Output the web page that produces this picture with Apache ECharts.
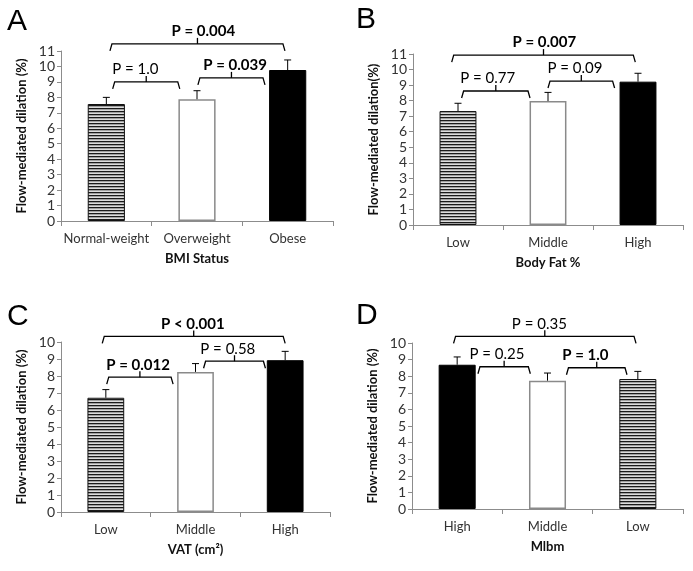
<!DOCTYPE html>
<html>
<head>
<meta charset="utf-8">
<script src="https://cdn.jsdelivr.net/npm/echarts@6/dist/echarts.min.js"></script>
<style>
html, body { margin: 0; padding: 0; background: #fff; }
#chart { width: 693px; height: 571px; }
</style>
</head>
<body>
<div id="chart"></div>
<script>
// A - BMI status
const catsA = ['Normal-weight', 'Overweight', 'Obese'];
const fmdA = [7.57, 7.88, 9.77];
const sdA = [0.43, 0.55, 0.65];
// B - body fat
const catsB = ['Low', 'Middle', 'High'];
const fmdB = [7.33, 7.97, 9.22];
const sdB = [0.50, 0.56, 0.54];
// C - VAT
const catsC = ['Low', 'Middle', 'High'];
const fmdC = [6.72, 8.24, 8.93];
const sdC = [0.48, 0.49, 0.52];
// D - Mlbm
const catsD = ['High', 'Middle', 'Low'];
const fmdD = [8.69, 7.73, 7.83];
const sdD = [0.47, 0.46, 0.46];

// p value brackets: [from, to, level, labelX, bold]
const pTextA = ['P = 0.004', 'P = 1.0', 'P = 0.039'];
const pSpanA = [[0.04, 1.97, 11.46, 1.07, 1], [0.07, 0.81, 9.0, 0.32, 0], [1.01, 1.75, 9.26, 1.42, 1]];
const pTextB = ['P = 0.007', 'P = 0.77', 'P = 0.09'];
const pSpanB = [[-0.07, 1.97, 10.93, 0.96, 1], [0.04, 0.8, 8.62, 0.33, 0], [1.0, 1.74, 9.26, 1.3, 0]];
const pTextC = ['P < 0.001', 'P = 0.012', 'P = 0.58'];
const pSpanC = [[-0.04, 2.0, 10.33, 0.97, 1], [0.01, 0.75, 7.93, 0.36, 1], [1.09, 1.78, 8.87, 1.36, 0]];
const pTextD = ['P = 0.35', 'P = 0.25', 'P = 1.0'];
const pSpanD = [[-0.04, 1.98, 10.4, 0.91, 0], [0.23, 0.81, 8.57, 0.44, 0], [1.21, 1.88, 8.51, 1.42, 1]];

const FONT = 'Lato';

// horizontal stripes for the hatched bars
const stripe = document.createElement('canvas');
stripe.width = 4;
stripe.height = 3;
const sctx = stripe.getContext('2d');
sctx.fillStyle = '#dcdcdc';
sctx.fillRect(0, 0, 4, 3);
sctx.fillStyle = '#1a1a1a';
sctx.fillRect(0, 0, 4, 1.3);

const fillStyles = {
  stripe: { color: { image: stripe, repeat: 'repeat' }, borderColor: '#111', borderWidth: 1 },
  white: { color: '#fff', borderColor: '#8a8a8a', borderWidth: 1.5 },
  black: { color: '#000', borderColor: '#000', borderWidth: 1 }
};

const panels = [
  { letter: 'A', cats: catsA, fmd: fmdA, sd: sdA, pText: pTextA, pSpan: pSpanA, yMax: 11,
    yName: 'Flow-mediated dilation (%)', xName: 'BMI Status', fills: ['stripe', 'white', 'black'],
    grid: { left: 61, right: 360, top: 51, bottom: 350 }, lx: 7, ly: 24 },
  { letter: 'B', cats: catsB, fmd: fmdB, sd: sdB, pText: pTextB, pSpan: pSpanB, yMax: 11,
    yName: 'Flow-mediated dilation(%)', xName: 'Body Fat %', fills: ['stripe', 'white', 'black'],
    grid: { left: 413, right: 10, top: 54, bottom: 346 }, lx: 356, ly: 22 },
  { letter: 'C', cats: catsC, fmd: fmdC, sd: sdC, pText: pTextC, pSpan: pSpanC, yMax: 10,
    yName: 'Flow-mediated dilation (%)', xName: 'VAT (cm²)', fills: ['stripe', 'white', 'black'],
    grid: { left: 61, right: 363, top: 342, bottom: 59 }, lx: 7, ly: 319 },
  { letter: 'D', cats: catsD, fmd: fmdD, sd: sdD, pText: pTextD, pSpan: pSpanD, yMax: 10,
    yName: 'Flow-mediated dilation (%)', xName: 'Mlbm', fills: ['black', 'white', 'stripe'],
    grid: { left: 412, right: 10, top: 343, bottom: 62 }, lx: 356, ly: 318 }
];

const grid = [], xAxis = [], yAxis = [], series = [], graphic = [];

panels.forEach((p, k) => {
  grid.push(p.grid);
  xAxis.push({
    type: 'category', gridIndex: k, data: p.cats,
    name: p.xName, nameLocation: 'middle', nameGap: 31,
    nameTextStyle: { fontFamily: FONT, fontWeight: 'bold', fontSize: 13, color: '#111' },
    axisLine: { onZero: false, lineStyle: { color: '#8c8c8c' } },
    axisTick: { show: true, length: 5, lineStyle: { color: '#8c8c8c' } },
    axisLabel: { interval: 0, fontFamily: FONT, fontSize: 13, color: '#333', margin: 11 }
  });
  // hidden linear axis so brackets can sit between categories
  xAxis.push({ type: 'value', gridIndex: k, min: -0.5, max: 2.5, show: false,
    axisLine: { onZero: false } });
  yAxis.push({
    type: 'value', gridIndex: k, min: 0, max: p.yMax, interval: 1,
    name: p.yName, nameLocation: 'middle', nameGap: 33,
    nameTextStyle: { fontFamily: FONT, fontWeight: 'bold', fontSize: 13, color: '#111' },
    axisLine: { show: true, onZero: false, lineStyle: { color: '#8c8c8c' } },
    axisTick: { show: true, length: 4, lineStyle: { color: '#8c8c8c' } },
    splitLine: { show: false },
    axisLabel: { fontFamily: FONT, fontSize: 14, color: '#333', margin: 6 }
  });

  series.push({
    type: 'bar', xAxisIndex: k * 2, yAxisIndex: k, barWidth: '41%',
    data: p.fmd.map((v, i) => ({ value: v, itemStyle: fillStyles[p.fills[i]] })),
    silent: true
  });

  // error bars, upper half only shows above the bar
  series.push({
    type: 'custom', xAxisIndex: k * 2, yAxisIndex: k, z: 5, silent: true,
    data: p.fmd.map((v, i) => [i, v, p.sd[i]]),
    renderItem: (params, api) => {
      const a = api.coord([api.value(0), api.value(1)]);
      const b = api.coord([api.value(0), api.value(1) + api.value(2)]);
      const st = { stroke: '#000', lineWidth: 1 };
      return {
        type: 'group',
        children: [
          { type: 'line', shape: { x1: a[0], y1: a[1], x2: b[0], y2: b[1] }, style: st },
          { type: 'line', shape: { x1: b[0] - 3.5, y1: b[1], x2: b[0] + 3.5, y2: b[1] }, style: st }
        ]
      };
    }
  });

  // significance brackets
  series.push({
    type: 'custom', xAxisIndex: k * 2 + 1, yAxisIndex: k, z: 6, silent: true, clip: false,
    data: p.pSpan,
    renderItem: (params, api) => {
      const lv = api.value(2);
      const l = api.coord([api.value(0), lv]);
      const r = api.coord([api.value(1), lv]);
      const t = api.coord([api.value(3), lv]);
      const mx = (l[0] + r[0]) / 2;
      const y = l[1];
      const st = { stroke: '#000', lineWidth: 1.3, fill: null };
      return {
        type: 'group',
        children: [
          { type: 'polyline', shape: { points: [[l[0], y + 7], [l[0] + 2, y], [r[0] - 2, y], [r[0], y + 7]] }, style: st },
          { type: 'line', shape: { x1: mx, y1: y, x2: mx, y2: y - 6 }, style: st },
          { type: 'text', x: t[0], y: y - 5,
            style: { text: p.pText[params.dataIndex], fill: '#000', align: 'center', verticalAlign: 'bottom',
              font: (api.value(4) ? 'bold ' : '') + '15px ' + FONT } }
        ]
      };
    }
  });

  graphic.push({
    type: 'text', left: p.lx, top: p.ly - 17,
    style: { text: p.letter, fontFamily: 'Liberation Sans', fontSize: 30, fill: '#000' }
  });
});

const chart = echarts.init(document.getElementById('chart'));
chart.setOption({
  animation: false,
  backgroundColor: '#fff',
  grid, xAxis, yAxis, series, graphic
});
</script>
</body>
</html>
